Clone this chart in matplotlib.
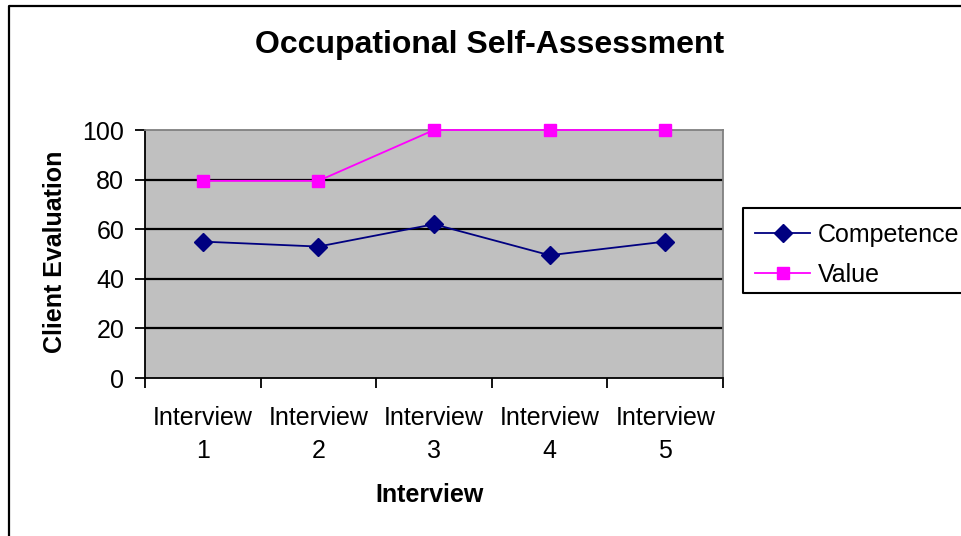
import matplotlib
matplotlib.use("Agg")
from matplotlib import pyplot as plt
from matplotlib.lines import Line2D

plt.rcParams['font.family'] = ['Liberation Sans', 'DejaVu Sans']

# chart data
categories = ["Interview\n1", "Interview\n2", "Interview\n3", "Interview\n4", "Interview\n5"]
competence = [55, 53, 62, 49.5, 55]
value = [79.5, 79.5, 100, 100, 100]
yticks = [0, 20, 40, 60, 80, 100]

W, H = 962, 536
fig = plt.figure(figsize=(W / 100, H / 100), dpi=100)
fig.patch.set_facecolor('white')

# chart area border (only left/top visible in the crop) - open polyline
fig.add_artist(Line2D([9 / W, 9 / W, 1.0], [0.0, 1 - 6 / H, 1 - 6 / H], transform=fig.transFigure,
                      color='black', linewidth=1.6, solid_capstyle='butt'))

ax = fig.add_axes([145 / W, 1 - 378 / H, (723 - 145) / W, (378 - 130) / H])
ax.set_facecolor('#C0C0C0')

x = list(range(len(categories)))
ax.plot(x, competence, color='#000080', linewidth=1.3, marker='D', markersize=9,
        label='Competence', zorder=3)
ax.plot(x, value, color='#FF00FF', linewidth=1.3, marker='s', markersize=9,
        label='Value', zorder=3, clip_on=False)

ax.set_xlim(-0.5, len(categories) - 0.5)
ax.set_ylim(0, 100)
ax.set_yticks(yticks)
for y in yticks[1:-1]:
    ax.axhline(y, color='black', linewidth=1.6, zorder=1)

ax.set_xticks(x)
ax.set_xticklabels(categories, fontsize=18, linespacing=1.45)
ax.set_xticks([i - 0.5 for i in range(len(categories) + 1)], minor=True)
ax.tick_params(axis='x', which='major', length=0, pad=20.5)
ax.tick_params(axis='x', which='minor', length=7, width=1.3, direction='out', color='black')
ax.tick_params(axis='y', length=7, width=1.3, direction='out', labelsize=18, pad=8)

for s in ['left', 'bottom']:
    ax.spines[s].set_color('black')
    ax.spines[s].set_linewidth(1.3)
for s in ['top', 'right']:
    ax.spines[s].set_color('#808080')
    ax.spines[s].set_linewidth(1.3)

fig.text(490 / W, 1 - 45 / H, 'Occupational Self-Assessment', fontsize=23, fontweight='bold',
         ha='center', va='center')
fig.text(430 / W, 1 - 495 / H, 'Interview', fontsize=18, fontweight='bold', ha='center', va='center')
fig.text(55 / W, 1 - 252 / H, 'Client Evaluation', fontsize=18, fontweight='bold', ha='center',
         va='center', rotation=90)

# legend box runs past the right edge of the image, as in the original
lx, ltop, lbot = 743 / W, 1 - 208 / H, 1 - 293 / H
fig.add_artist(Line2D([1.0, lx, lx, 1.0], [ltop, ltop, lbot, lbot], transform=fig.transFigure,
                      color='black', linewidth=1.5, solid_capstyle='butt'))
leg = fig.legend(loc='upper left', bbox_to_anchor=(lx, 1 - 210 / H), fontsize=18,
                 frameon=False, handlelength=2.2, handletextpad=0.3, borderpad=0.5,
                 labelspacing=0.65, borderaxespad=0)

fig.savefig('out.png', dpi=100)
